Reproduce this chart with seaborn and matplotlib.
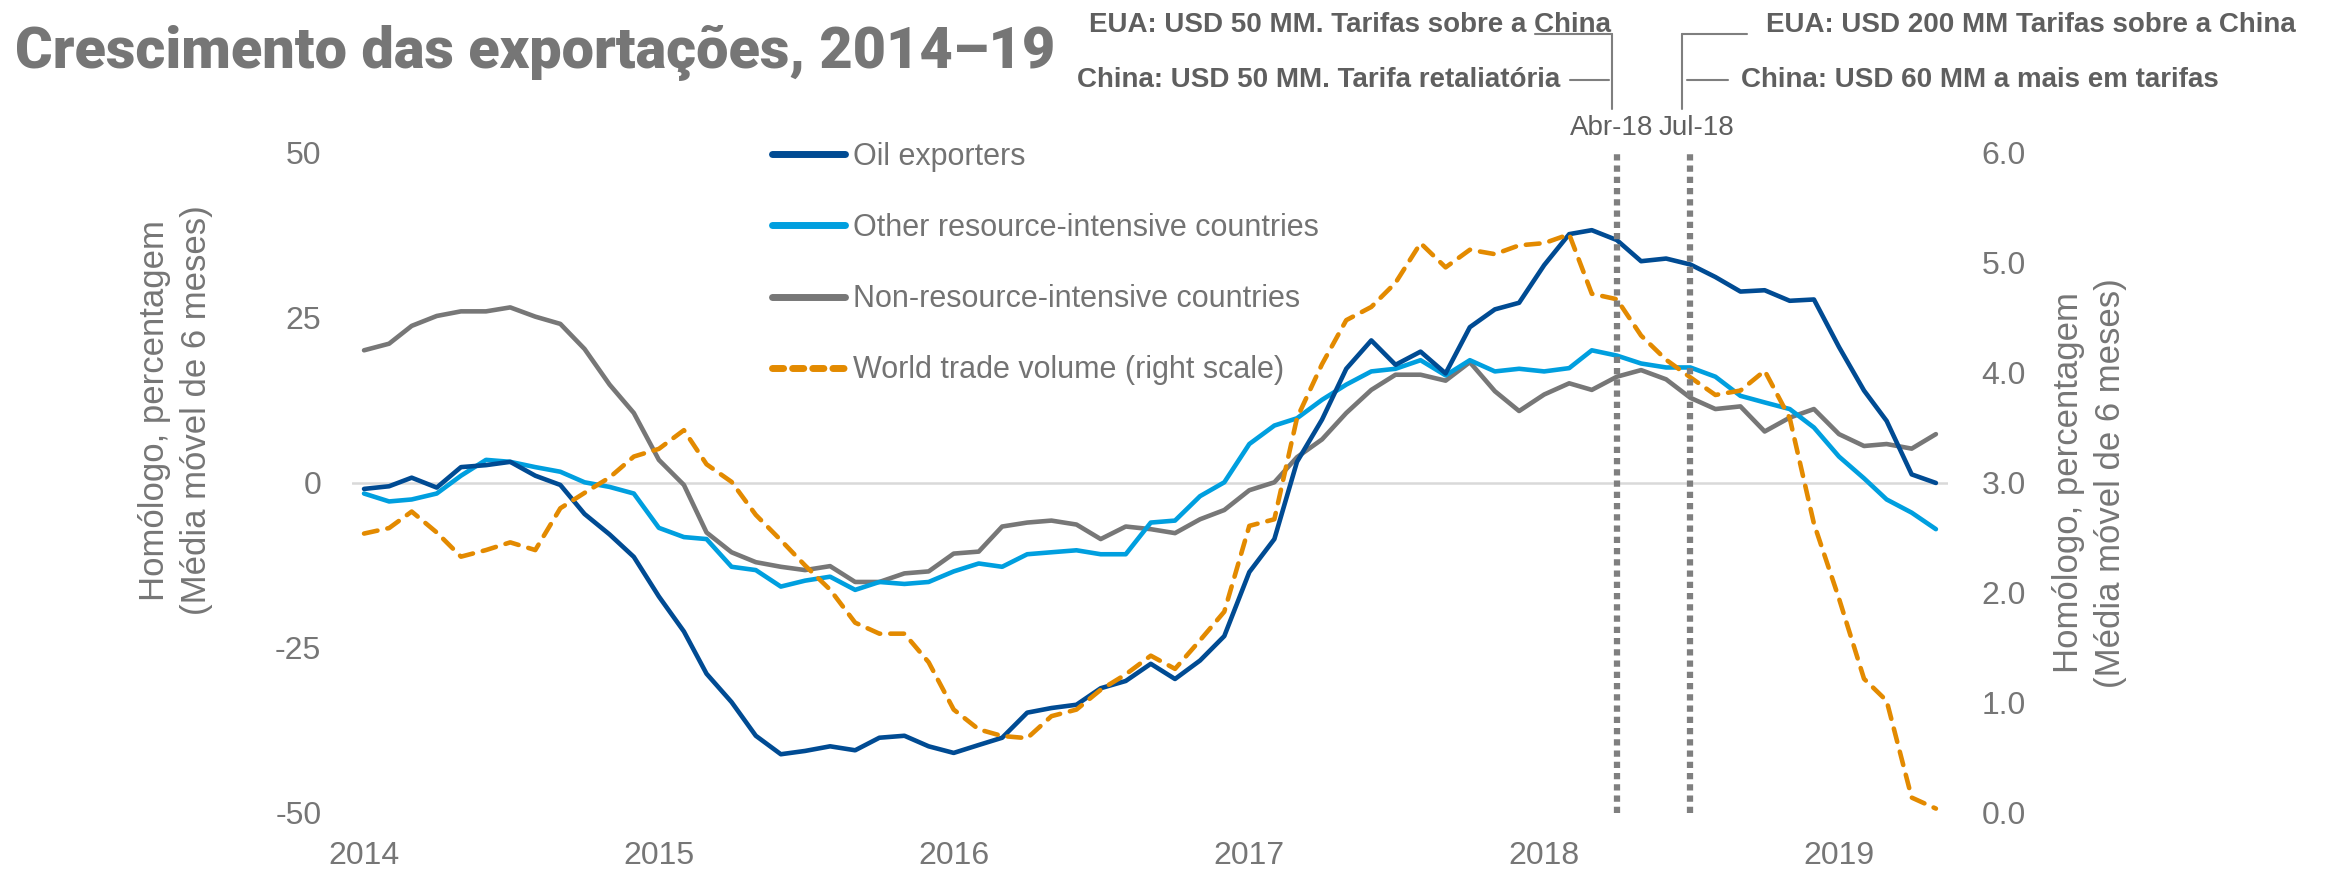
import numpy as np
import pandas as pd
import matplotlib
matplotlib.use('Agg')
import matplotlib.pyplot as plt
import matplotlib.dates as mdates
import matplotlib.transforms as mtransforms
from matplotlib.lines import Line2D
import seaborn as sns

# %%
# data, monthly Jan-2014 .. May-2019
months = pd.date_range('2014-01-01', periods=65, freq='MS')

oil_exporters = [-0.9, -0.5, 0.8, -0.7, 2.4, 2.7, 3.2, 1.1, -0.3, -4.7,
                 -7.8, -11.2, -17.2, -22.5, -28.9, -33.2, -38.3, -41.1, -40.6, -39.9,
                 -40.5, -38.6, -38.3, -39.9, -40.9, -39.7, -38.6, -34.8, -34.1, -33.6,
                 -31.1, -30.0, -27.4, -29.7, -26.9, -23.2, -13.5, -8.5, 3.2, 9.6,
                 17.3, 21.6, 17.9, 19.9, 16.6, 23.6, 26.3, 27.3, 33.0, 37.7,
                 38.3, 36.8, 33.6, 34.0, 33.1, 31.2, 29.0, 29.2, 27.6, 27.8,
                 20.6, 14.0, 9.4, 1.3, 0.0]
other_resource = [-1.6, -2.8, -2.5, -1.6, 1.1, 3.5, 3.2, 2.4, 1.7, 0.1,
                  -0.6, -1.6, -6.8, -8.2, -8.5, -12.7, -13.2, -15.7, -14.8, -14.2,
                  -16.2, -15.0, -15.3, -15.0, -13.4, -12.2, -12.7, -10.8, -10.5, -10.2,
                  -10.8, -10.8, -6.0, -5.7, -2.0, 0.1, 5.9, 8.7, 9.8, 12.6,
                  14.9, 16.9, 17.3, 18.6, 16.3, 18.6, 16.9, 17.3, 16.9, 17.4,
                  20.1, 19.3, 18.1, 17.5, 17.5, 16.1, 13.2, 12.2, 11.2, 8.4,
                  4.0, 0.7, -2.5, -4.5, -7.0]
non_resource = [20.1, 21.1, 23.8, 25.3, 26.0, 26.0, 26.6, 25.2, 24.1, 20.3,
                14.9, 10.6, 3.5, -0.3, -7.5, -10.5, -12.0, -12.7, -13.2, -12.6,
                -15.0, -15.0, -13.7, -13.4, -10.7, -10.4, -6.6, -6.0, -5.7, -6.3,
                -8.5, -6.6, -7.0, -7.6, -5.5, -4.1, -1.1, 0.1, 3.9, 6.6,
                10.6, 14.1, 16.4, 16.4, 15.5, 18.3, 13.9, 10.9, 13.4, 15.1,
                14.1, 16.1, 17.1, 15.7, 12.9, 11.2, 11.6, 7.8, 9.9, 11.2,
                7.4, 5.6, 5.9, 5.2, 7.4]
world_trade = [2.54, 2.59, 2.74, 2.55, 2.33, 2.39, 2.46, 2.39, 2.77, 2.91,
               3.05, 3.24, 3.31, 3.48, 3.17, 3.01, 2.71, 2.48, 2.25, 2.03,
               1.73, 1.63, 1.63, 1.37, 0.94, 0.76, 0.70, 0.68, 0.88, 0.94,
               1.12, 1.26, 1.43, 1.31, 1.57, 1.83, 2.61, 2.67, 3.59, 4.08,
               4.48, 4.60, 4.82, 5.18, 4.96, 5.12, 5.08, 5.16, 5.18, 5.26,
               4.72, 4.67, 4.34, 4.12, 3.96, 3.80, 3.84, 4.02, 3.59, 2.63,
               1.95, 1.22, 1.02, 0.14, 0.04]

series_names = ['Oil exporters', 'Other resource-intensive countries',
                'Non-resource-intensive countries']
world_name = 'World trade volume (right scale)'
series_colors = ['#004B93', '#009FDF', '#777777']
world_color = '#E38A00'

year_ticks = ['2014', '2015', '2016', '2017', '2018', '2019']
left_ticks = [-50, -25, 0, 25, 50]
right_ticks = [0.0, 1.0, 2.0, 3.0, 4.0, 5.0, 6.0]
event_dates = ['2018-04-01', '2018-07-01']
event_labels = ['Abr-18', 'Jul-18']

title = 'Crescimento das exportações, 2014–19'
ylabel = 'Homólogo, percentagem\n(Média móvel de 6 meses)'

# %%
sns.set_theme(style='white')
plt.rcParams['font.family'] = ['Liberation Sans', 'DejaVu Sans']
narrow = ['Liberation Sans Narrow', 'Liberation Sans', 'DejaVu Sans']
grey_txt = '#767676'
note_txt = '#5F5F5F'

fig = plt.figure(figsize=(23.26, 8.77), dpi=100)
ax = fig.add_axes([0.1513, 0.0730, 0.6862, 0.7526])

df = pd.DataFrame({
    'month': np.tile(months, 3),
    'value': oil_exporters + other_resource + non_resource,
    'series': np.repeat(series_names, len(months)),
})
sns.lineplot(data=df, x='month', y='value', hue='series', hue_order=series_names[::-1],
             palette=dict(zip(series_names, series_colors)), lw=3.3, ax=ax, legend=False)
ax.axhline(0, color='#D9D9D9', lw=1.8, zorder=0.5)

ax2 = ax.twinx()
sns.lineplot(x=months, y=world_trade, color=world_color, lw=3.3, ax=ax2,
             linestyle=(0, (3, 2.2)), dash_capstyle='round', legend=False)

for d in event_dates:
    ax2.axvline(pd.Timestamp(d), color='#7F7F7F', lw=4.5, linestyle=(0, (1.0, 0.8)),
                zorder=6)

# axes cosmetics
for a in (ax, ax2):
    for s in a.spines.values():
        s.set_visible(False)
    a.grid(False)
ax.set_ylim(-50, 50)
ax2.set_ylim(0, 6)
ax.set_yticks(left_ticks)
ax.set_yticklabels([str(t) for t in left_ticks])
ax2.set_yticks(right_ticks)
ax2.set_yticklabels(['%.1f' % t for t in right_ticks])
ax.set_xticks([pd.Timestamp(y + '-01-01') for y in year_ticks])
ax.set_xticklabels(year_ticks)
ax.tick_params(axis='both', length=0, labelsize=23, labelcolor=grey_txt)
ax.tick_params(axis='y', pad=22)
ax.tick_params(axis='x', pad=20)
ax2.tick_params(axis='y', length=0, labelsize=23, labelcolor=grey_txt, pad=24)
ax.set_xlabel('')

ax.set_ylabel(ylabel, fontsize=25, color=grey_txt, family=narrow, linespacing=1.35)
ax.yaxis.set_label_coords(-0.087, 0.61)
ax2.set_ylabel(ylabel, fontsize=25, color=grey_txt, family=narrow, linespacing=1.35)
ax2.yaxis.set_label_coords(1.065, 0.5)

x0 = months[0] - pd.Timedelta(days=15)
x1 = months[-1] + pd.Timedelta(days=15)
ax.set_xlim(x0, x1)

# legend
handles = [Line2D([], [], color=c, lw=5, solid_capstyle='round') for c in series_colors]
handles.append(Line2D([], [], color=world_color, lw=5, linestyle=(0, (1.6, 1.3)),
                      dash_capstyle='round'))
ax2.legend(handles, series_names + [world_name], loc='upper left',
           bbox_to_anchor=(0.263, 1.017), frameon=False, fontsize=22,
           labelcolor='#737373', handlelength=2.4, handletextpad=0.25,
           labelspacing=1.35, borderaxespad=0, borderpad=0)

# title
fig.text(0.0065, 1 - 53 / 877, title, fontsize=41.5, fontweight='black',
         family=['Roboto', 'Liberation Sans', 'DejaVu Sans'], color=grey_txt,
         ha='left', va='center')

# event annotations above the plot
trans = mtransforms.blended_transform_factory(ax.transData, ax.transAxes)
apr = mdates.date2num(pd.Timestamp(event_dates[0]))
jul = mdates.date2num(pd.Timestamp(event_dates[1]))
lead_apr, lead_jul = apr - 6, jul - 10
y_top, y_bot, y_l1, y_l2, y_lab = 1.18, 1.067, 1.194, 1.111, 1.038
line_kw = dict(color='#7F7F7F', lw=1.5, transform=trans, clip_on=False)

ax.plot([lead_apr, lead_apr], [y_bot, y_top], **line_kw)
ax.plot([lead_apr - 95, lead_apr], [y_top, y_top], **line_kw)
ax.plot([lead_apr - 52, lead_apr - 4], [y_l2, y_l2], **line_kw)
ax.plot([lead_jul, lead_jul], [y_bot, y_top], **line_kw)
ax.plot([lead_jul, lead_jul + 80], [y_top, y_top], **line_kw)
ax.plot([lead_jul + 6, lead_jul + 56], [y_l2, y_l2], **line_kw)

note_kw = dict(xycoords=trans, textcoords='offset points', fontsize=20,
               family=narrow, fontweight='bold', color=note_txt, va='center',
               annotation_clip=False)
ax.annotate('EUA: USD 50 MM. Tarifas sobre a China', xy=(lead_apr, y_l1), xytext=(-1, 0),
            ha='right', **note_kw)
ax.annotate('China: USD 50 MM. Tarifa retaliatória', xy=(lead_apr, y_l2), xytext=(-37, 0),
            ha='right', **note_kw)
ax.annotate('EUA: USD 200 MM Tarifas sobre a China', xy=(lead_jul, y_l1), xytext=(60, 0),
            ha='left', **note_kw)
ax.annotate('China: USD 60 MM a mais em tarifas', xy=(lead_jul, y_l2), xytext=(42, 0),
            ha='left', **note_kw)
month_kw = dict(xycoords=trans, textcoords='offset points', fontsize=20, family=narrow,
                color=note_txt, va='center', annotation_clip=False)
ax.annotate(event_labels[0], xy=(apr, y_lab), xytext=(26, 0), ha='right', **month_kw)
ax.annotate(event_labels[1], xy=(jul, y_lab), xytext=(-23, 0), ha='left', **month_kw)

fig.savefig('out.png', dpi=100)
